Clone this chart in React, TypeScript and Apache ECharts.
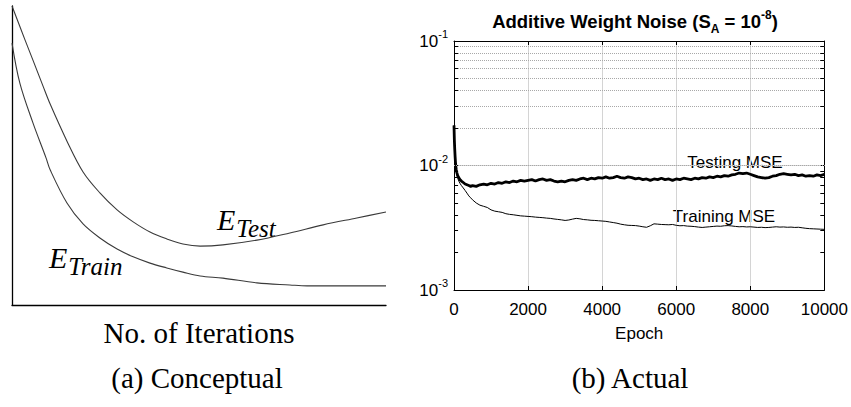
import React, { useEffect, useRef } from "react";
import * as echarts from "echarts";

// ---------- Panel (a): conceptual curves (x: iterations 0-100, y: error 0-100) ----------
const conceptTestX = [0, 3.5, 5.6, 8.3, 10.2, 14.7, 19.0, 23.5, 28.1, 32.4, 36.9, 41.4, 45.7, 50.3, 56.4, 65.5, 74.3, 83.2, 92.2, 100];
const conceptTestY = [100, 88.6, 81.9, 73.2, 67.2, 54.8, 44.5, 37.5, 31.8, 27.8, 24.4, 22.1, 20.4, 19.7, 20.1, 21.7, 24.1, 26.8, 29.1, 31.1];
const conceptTrainX = [0, 2.1, 5.6, 9.1, 10.2, 14.7, 19.0, 23.5, 28.1, 32.4, 36.9, 41.4, 45.7, 50.3, 56.4, 65.5, 74.3, 78.9, 100];
const conceptTrainY = [87.6, 74.2, 60.9, 49.2, 45.2, 34.1, 27.1, 22.4, 18.7, 16.1, 14.0, 12.4, 11.0, 9.7, 9.0, 7.4, 6.7, 6.4, 6.4];

// ---------- Panel (b): actual MSE curves ----------
const epochs = [
  0, 10, 20, 30, 40, 50, 60, 80, 100, 130,
  160, 200, 250, 300, 350, 400, 450, 500, 600, 700,
  800, 900, 1000, 1100, 1200, 1300, 1400, 1500, 1600, 1700,
  1800, 1900, 2000, 2100, 2200, 2300, 2400, 2500, 2600, 2700,
  2800, 2900, 3000, 3100, 3200, 3300, 3400, 3500, 3600, 3700,
  3800, 3900, 4000, 4100, 4200, 4300, 4400, 4500, 4600, 4700,
  4800, 4900, 5000, 5100, 5200, 5300, 5400, 5500, 5600, 5700,
  5800, 5900, 6000, 6100, 6200, 6300, 6400, 6500, 6600, 6700,
  6800, 6900, 7000, 7100, 7200, 7300, 7400, 7500, 7600, 7700,
  7800, 7900, 8000, 8100, 8200, 8300, 8400, 8500, 8600, 8700,
  8800, 8900, 9000, 9100, 9200, 9300, 9400, 9500, 9600, 9700,
  9800, 9900, 10000,
];
const testMse = [
  0.021, 0.016, 0.0135, 0.0118, 0.0106, 0.0098, 0.0093, 0.0087, 0.0083, 0.0080,
  0.0077, 0.0075, 0.0073, 0.0071, 0.0070, 0.0069, 0.0068, 0.0069, 0.0068, 0.0070,
  0.0071, 0.0070, 0.0072, 0.0071, 0.0073, 0.0072, 0.0074, 0.0073, 0.0075, 0.0074,
  0.0076, 0.0075, 0.0076, 0.0077, 0.0075, 0.0077, 0.0078, 0.0076, 0.0077, 0.0075,
  0.0074, 0.0075, 0.0074, 0.0076, 0.0077, 0.0076, 0.0078, 0.0079, 0.0077, 0.0079,
  0.0078, 0.0080, 0.0079, 0.0081, 0.0079, 0.0080, 0.0082, 0.0080, 0.0079, 0.0081,
  0.0080, 0.0078, 0.0079, 0.0077, 0.0078, 0.0076, 0.0078, 0.0077, 0.0079, 0.0077,
  0.0078, 0.0076, 0.0078, 0.0077, 0.0079, 0.0078, 0.0077, 0.0079, 0.0078, 0.0080,
  0.0079, 0.0081, 0.0080, 0.0082, 0.0081, 0.0083, 0.0082, 0.0084, 0.0085, 0.0087,
  0.0086, 0.0087, 0.0085, 0.0083, 0.0081, 0.0080, 0.0079, 0.0080, 0.0082, 0.0083,
  0.0085, 0.0086, 0.0085, 0.0084, 0.0085, 0.0083, 0.0084, 0.0082, 0.0083, 0.0082,
  0.0084, 0.0083, 0.0085,
];
const trainMse = [
  0.021, 0.0150, 0.0125, 0.0110, 0.0100, 0.0094, 0.0089, 0.0083, 0.0079, 0.0075,
  0.0072, 0.0069, 0.0066, 0.0063, 0.0060, 0.0057, 0.0055, 0.0053, 0.0050, 0.0048,
  0.0047, 0.0046, 0.0044, 0.0043, 0.00425, 0.0042, 0.0041, 0.00405, 0.00402, 0.00398,
  0.00394, 0.00392, 0.0039, 0.00388, 0.00385, 0.00383, 0.00381, 0.00378, 0.00376, 0.00372,
  0.00369, 0.00366, 0.00362, 0.00365, 0.00371, 0.00376, 0.00373, 0.00368, 0.00366, 0.00363,
  0.00362, 0.0036, 0.00358, 0.00356, 0.00352, 0.00348, 0.00344, 0.00338, 0.00334, 0.00331,
  0.0033, 0.00329, 0.00326, 0.00322, 0.00319, 0.00328, 0.0034, 0.00338, 0.00336, 0.00335,
  0.00334, 0.00336, 0.00331, 0.00328, 0.00329, 0.00326, 0.00325, 0.00323, 0.0032, 0.00318,
  0.0032, 0.00322, 0.00324, 0.00326, 0.00325, 0.00328, 0.00329, 0.00327, 0.00324, 0.00322,
  0.00323, 0.00321, 0.00322, 0.0032, 0.00318, 0.00319, 0.00317, 0.00318, 0.0032, 0.00322,
  0.0032, 0.00321, 0.00319, 0.0032, 0.00318, 0.00319, 0.00316, 0.00313, 0.00311, 0.0031,
  0.00309, 0.00308, 0.00307,
];
const minorGridValues = [
  0.002, 0.003, 0.004, 0.005, 0.006, 0.007, 0.008, 0.009,
  0.02, 0.03, 0.04, 0.05, 0.06, 0.07, 0.08, 0.09,
];
const xTickInterval = 2000;

const zip = (xs: number[], ys: number[]) => xs.map((x, i) => [x, ys[i]]);

export default function App() {
  const ref = useRef<HTMLDivElement>(null);

  useEffect(() => {
    if (!ref.current) return;
    const chart = echarts.init(ref.current, undefined, { renderer: "svg" });
    const sans = "Liberation Sans";
    const serif = "Liberation Serif";
    const black = "#000";

    const tickLen = 4;
    const minorTickMarks: any[] = [];
    minorGridValues.forEach((v) => {
      minorTickMarks.push([
        { coord: [0, v], lineStyle: { type: "solid", color: black, width: 1 } },
        { coord: [110, v] },
      ]);
      minorTickMarks.push([
        { coord: [9890, v], lineStyle: { type: "solid", color: black, width: 1 } },
        { coord: [10000, v] },
      ]);
    });

    const eRich = {
      e: { fontFamily: serif, fontStyle: "italic", fontSize: 30, fill: black, lineHeight: 30, verticalAlign: "top" },
      s: { fontFamily: serif, fontStyle: "italic", fontSize: 25, fill: black, lineHeight: 25, padding: [12, 0, 0, 1], verticalAlign: "top" },
    };

    const option: any = {
      animation: false,
      backgroundColor: "#fff",
      textStyle: { fontFamily: sans },
      grid: [
        { left: 12, top: 6, width: 374, height: 299 },
        { left: 454, top: 41, width: 371, height: 249 },
      ],
      xAxis: [
        {
          gridIndex: 0,
          type: "value",
          min: 0,
          max: 100,
          axisLine: { show: true, onZero: false, lineStyle: { color: black, width: 1.3 } },
          axisTick: { show: false },
          axisLabel: { show: false },
          splitLine: { show: false },
          name: "No. of Iterations",
          nameLocation: "middle",
          nameGap: 28,
          nameTextStyle: { fontFamily: serif, fontSize: 29, color: black, verticalAlign: "middle" },
        },
        {
          gridIndex: 1,
          type: "value",
          min: 0,
          max: 10000,
          interval: xTickInterval,
          position: "bottom",
          axisLine: { show: true, onZero: false, lineStyle: { color: black, width: 1 } },
          axisTick: { show: true, inside: true, length: tickLen, lineStyle: { color: black } },
          axisLabel: { fontFamily: sans, fontSize: 17, color: black, margin: 11, formatter: (v: number) => String(v) },
          splitLine: { show: true, lineStyle: { color: "#d4d4d4", width: 1 } },
          name: "Epoch",
          nameLocation: "middle",
          nameGap: 43,
          nameTextStyle: { fontFamily: sans, fontSize: 17, color: black, verticalAlign: "middle" },
        },
        {
          gridIndex: 1,
          type: "value",
          min: 0,
          max: 10000,
          interval: xTickInterval,
          position: "top",
          axisLine: { show: true, onZero: false, lineStyle: { color: black, width: 1 } },
          axisTick: { show: true, inside: true, length: tickLen, lineStyle: { color: black } },
          axisLabel: { show: false },
          splitLine: { show: false },
        },
      ],
      yAxis: [
        {
          gridIndex: 0,
          type: "value",
          min: 0,
          max: 100,
          axisLine: { show: true, onZero: false, lineStyle: { color: black, width: 1.3 } },
          axisTick: { show: false },
          axisLabel: { show: false },
          splitLine: { show: false },
        },
        {
          gridIndex: 1,
          type: "log",
          logBase: 10,
          min: 0.001,
          max: 0.1,
          position: "left",
          axisLine: { show: true, onZero: false, lineStyle: { color: black, width: 1 } },
          axisTick: { show: true, inside: true, length: tickLen, lineStyle: { color: black } },
          axisLabel: {
            margin: 6,
            formatter: (v: number) => `{b|10}{s|${Math.round(Math.log10(v))}}`,
            rich: {
              b: { fontFamily: sans, fontSize: 17, color: black, lineHeight: 17, padding: [12, 0, 0, 0], verticalAlign: "bottom" },
              s: { fontFamily: sans, fontSize: 11, color: black, lineHeight: 11, padding: [0, 0, 10, 0], verticalAlign: "bottom" },
            },
          },
          splitLine: { show: true, lineStyle: { color: "#d4d4d4", width: 1 } },
        },
        {
          gridIndex: 1,
          type: "log",
          logBase: 10,
          min: 0.001,
          max: 0.1,
          position: "right",
          axisLine: { show: true, onZero: false, lineStyle: { color: black, width: 1 } },
          axisTick: { show: true, inside: true, length: tickLen, lineStyle: { color: black } },
          axisLabel: { show: false },
          splitLine: { show: false },
        },
      ],
      series: [
        {
          name: "E_Test",
          type: "line",
          xAxisIndex: 0,
          yAxisIndex: 0,
          data: zip(conceptTestX, conceptTestY),
          smooth: 0.35,
          symbol: "none",
          lineStyle: { color: "#3a3a3a", width: 1.1 },
        },
        {
          name: "E_Train",
          type: "line",
          xAxisIndex: 0,
          yAxisIndex: 0,
          data: zip(conceptTrainX, conceptTrainY),
          smooth: 0.35,
          symbol: "none",
          lineStyle: { color: "#3a3a3a", width: 1.1 },
        },
        {
          name: "Training MSE",
          type: "line",
          xAxisIndex: 1,
          yAxisIndex: 1,
          data: zip(epochs, trainMse),
          symbol: "none",
          lineStyle: { color: black, width: 1 },
          markLine: {
            silent: true,
            symbol: ["none", "none"],
            label: { show: false },
            lineStyle: { type: "dotted", color: "#a8a8a8", width: 1 },
            data: [...minorGridValues.map((v) => ({ yAxis: v })), ...minorTickMarks],
          },
        },
        {
          name: "Testing MSE",
          type: "line",
          xAxisIndex: 1,
          yAxisIndex: 1,
          data: zip(epochs, testMse),
          symbol: "none",
          lineStyle: { color: black, width: 2.8 },
        },
      ],
      graphic: [
        {
          type: "text",
          x: 635,
          y: 7,
          style: {
            text: "{b|Additive Weight Noise (S}{sub|A}{b| = 10}{sup|-8}{b|)}",
            align: "center",
            verticalAlign: "top",
            rich: {
              b: { fontFamily: sans, fontSize: 18.5, fontWeight: "bold", fill: black, lineHeight: 18, padding: [5, 0, 0, 0], verticalAlign: "top" },
              sub: { fontFamily: sans, fontSize: 12, fontWeight: "bold", fill: black, lineHeight: 12, padding: [16, 0, 0, 0], verticalAlign: "top" },
              sup: { fontFamily: sans, fontSize: 12, fontWeight: "bold", fill: black, lineHeight: 12, padding: [2, 0, 0, 0], verticalAlign: "top" },
            },
          },
        },
        {
          type: "text",
          x: 735,
          y: 162,
          style: { text: "Testing MSE", fontFamily: sans, fontSize: 17, fill: black, align: "center", verticalAlign: "middle" },
        },
        {
          type: "text",
          x: 724,
          y: 216,
          style: { text: "Training MSE", fontFamily: sans, fontSize: 17, fill: black, align: "center", verticalAlign: "middle" },
        },
        {
          type: "text",
          x: 217,
          y: 204,
          style: { text: "{e|E}{s|Test}", align: "left", verticalAlign: "top", rich: eRich },
        },
        {
          type: "text",
          x: 49,
          y: 242,
          style: { text: "{e|E}{s|Train}", align: "left", verticalAlign: "top", rich: eRich },
        },
        {
          type: "text",
          x: 197,
          y: 378,
          style: { text: "(a) Conceptual", fontFamily: serif, fontSize: 29, fill: black, align: "center", verticalAlign: "middle" },
        },
        {
          type: "text",
          x: 630,
          y: 378,
          style: { text: "(b) Actual", fontFamily: serif, fontSize: 29, fill: black, align: "center", verticalAlign: "middle" },
        },
      ],
    };

    chart.setOption(option);
    return () => chart.dispose();
  }, []);

  return (
    <div
      ref={ref}
      style={{ position: "fixed", left: 0, top: 0, width: 851, height: 407, background: "#fff" }}
    />
  );
}
